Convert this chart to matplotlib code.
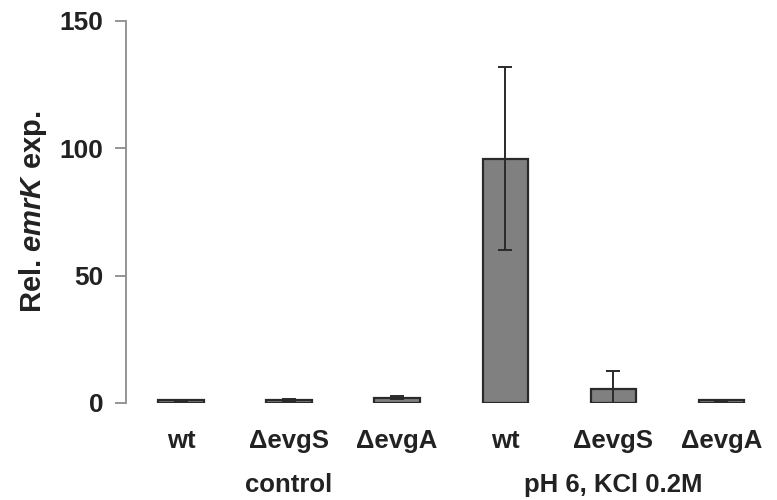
import matplotlib
matplotlib.use("Agg")
import matplotlib.pyplot as plt
import numpy as np

plt.rcParams['font.family'] = ['Liberation Sans', 'DejaVu Sans']
plt.rcParams['font.weight'] = 'bold'
plt.rcParams['mathtext.fontset'] = 'custom'
plt.rcParams['mathtext.it'] = 'Liberation Sans:italic:bold'
plt.rcParams['mathtext.rm'] = 'Liberation Sans:bold'

strains = ["wt", "\u0394evgS", "\u0394evgA", "wt", "\u0394evgS", "\u0394evgA"]
expression = [1.0, 1.0, 2.0, 96.0, 5.5, 1.0]
errors = [0.3, 0.5, 0.6, 36.0, 7.2, 0.3]
groups = ["control", "pH 6, KCl 0.2M"]
group_centers = [1, 4]
yticks = [0, 50, 100, 150]

fig = plt.figure(figsize=(7.77, 5.0), dpi=100)
ax = fig.add_axes([0.162, 0.194, 0.836, 0.764])

x = np.arange(len(strains))
ax.bar(x, expression, width=0.42, color="#808080", edgecolor="#2a2a2a",
       linewidth=1.6, zorder=2)
ax.errorbar(x, expression, yerr=errors, fmt="none", ecolor="#2a2a2a",
            elinewidth=1.4, capsize=5, capthick=1.4, zorder=3)

ax.set_xlim(-0.51, 5.5)
ax.set_ylim(0, 150)
ax.set_yticks(yticks)
ax.set_xticks(x)
ax.set_xticklabels(strains)

for s in ["top", "right", "bottom"]:
    ax.spines[s].set_visible(False)
ax.spines["left"].set_color("#8c8c8c")
ax.spines["left"].set_linewidth(1.3)

ax.tick_params(axis="y", length=8, width=1.3, color="#8c8c8c", pad=8,
               labelsize=19, labelcolor="#222222")
ax.tick_params(axis="x", length=0, pad=19, labelsize=18.5, labelcolor="#222222")

ax.set_ylabel(r"Rel. $\mathit{emrK}$ exp.", fontsize=21, color="#222222",
              fontweight="bold", labelpad=8)

for label, cx in zip(groups, group_centers):
    ax.text(cx, -0.215, label, transform=ax.get_xaxis_transform(),
            ha="center", va="center", fontsize=18.5, fontweight="bold",
            color="#222222")

fig.savefig("out.png", dpi=100)
